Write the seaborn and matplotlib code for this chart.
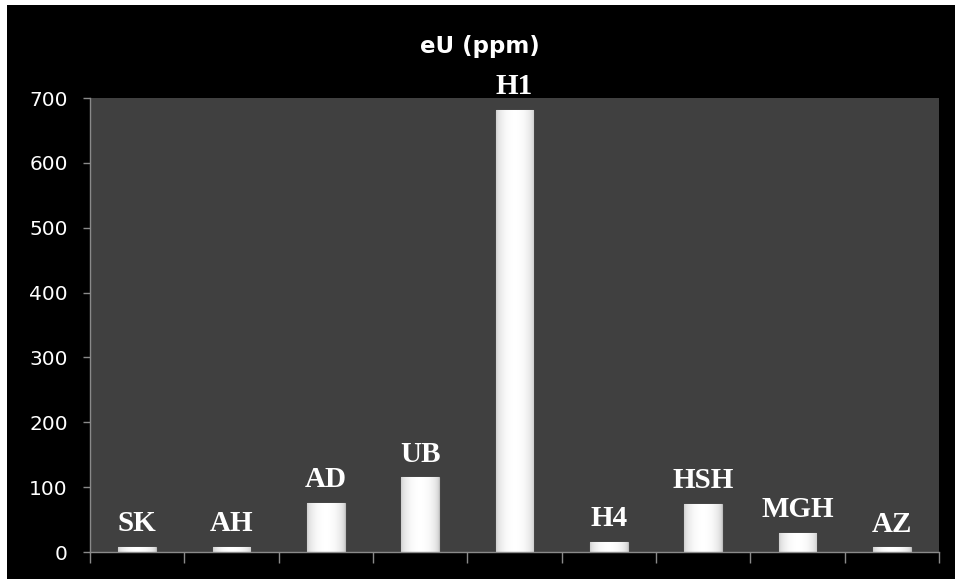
import numpy as np
import pandas as pd
import matplotlib
matplotlib.use("Agg")
import matplotlib.pyplot as plt
import seaborn as sns
from matplotlib.patches import Rectangle

# Data
sites = ["SK", "AH", "AD", "UB", "H1", "H4", "HSH", "MGH", "AZ"]
eU_ppm = [8, 8, 76, 115, 682, 16, 74, 30, 7]
y_ticks = [0, 100, 200, 300, 400, 500, 600, 700]
title = "eU (ppm)"

df = pd.DataFrame({"site": sites, "eU": eU_ppm})

sns.set_theme(style="dark")
plt.rcParams["font.family"] = ["DejaVu Sans"]

W, H = 955, 579
fig = plt.figure(figsize=(W / 100, H / 100), dpi=100, facecolor="white")
# black chart area with a thin white margin at left/top
fig.patches.append(Rectangle((7 / W, 0), 1 - 7 / W, 1 - 5 / H, transform=fig.transFigure,
                             facecolor="black", edgecolor="none", zorder=-10))

ax = fig.add_axes([90 / W, (H - 552) / H, (939 - 90) / W, (552 - 98) / H])
ax.set_facecolor("#404040")

sns.barplot(data=df, x="site", y="eU", ax=ax, color="#e6e6e6", width=0.4,
            saturation=1, edgecolor="#bdbdbd", linewidth=0.8)

ax.set_ylim(0, 700)
ax.set_xlim(-0.5, len(sites) - 0.5)
ax.set_yticks(y_ticks)
ax.set_yticklabels([str(t) for t in y_ticks], color="white", fontsize=14.5)
ax.set_xticks(np.arange(-0.5, len(sites), 1.0))
ax.set_xticklabels([])
ax.set_xlabel("")
ax.set_ylabel("")
ax.grid(False)
for s in ["top", "right"]:
    ax.spines[s].set_visible(False)
for s in ["left", "bottom"]:
    ax.spines[s].set_visible(True)
    ax.spines[s].set_color("#8a8a8a")
    ax.spines[s].set_linewidth(1.0)
ax.tick_params(axis="both", which="both", direction="out", length=5, width=1.0,
               color="#8a8a8a", left=True, bottom=True)
ax.tick_params(axis="y", pad=11)
ax.tick_params(axis="x", length=8)

# Gradient shading clipped to each bar
grad = np.linspace(0, 1, 64)
shade = 0.80 + 0.20 * np.sin(np.pi * grad) ** 0.5
img = np.tile(shade, (2, 1))
for p in ax.patches:
    x0, y0 = p.get_x(), p.get_y()
    w, h = p.get_width(), p.get_height()
    im = ax.imshow(img, cmap="gray", vmin=0, vmax=1, aspect="auto",
                   extent=(x0, x0 + w, y0, y0 + h), zorder=p.get_zorder() + 0.1,
                   interpolation="bicubic")
    im.set_clip_path(p)
ax.set_xlim(-0.5, len(sites) - 0.5)
ax.set_ylim(0, 700)

# Labels above bars
for i, (name, v) in enumerate(zip(sites, eU_ppm)):
    ax.annotate(name, (i, v), xytext=(0, 7), textcoords="offset points",
                ha="center", va="bottom", color="white", fontsize=21,
                fontweight="bold", family="Liberation Serif", zorder=5,
                annotation_clip=False)

fig.text(480 / W, 1 - 46 / H, title, ha="center", va="center", color="white",
         fontsize=16.5, fontweight="bold")

fig.savefig("out.png", dpi=100, facecolor=fig.get_facecolor())
